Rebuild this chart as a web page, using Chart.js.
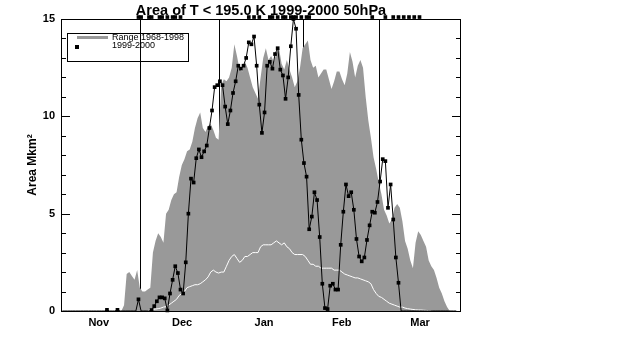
<!DOCTYPE html>
<html><head><meta charset="utf-8">
<script src="https://cdn.jsdelivr.net/npm/chart.js@4.4.1/dist/chart.umd.min.js"></script>
<style>html,body{margin:0;padding:0;background:#fff;}#wrap{width:638px;height:353px;}</style>
</head><body><div id="wrap"><canvas id="c" width="638" height="353"></canvas></div>
<script>
// ---- text ----
const titleText = 'Area of T < 195.0 K 1999-2000 50hPa';
const yAxisTitle = 'Area Mkm\u00B2';
const rangeLabel = 'Range 1968-1998';
const obsLabel = '1999-2000';

// ---- axes (x = days since 1 Nov) ----
const monthLabels = ['Nov', 'Dec', 'Jan', 'Feb', 'Mar'];
const monthLabelDays = [14.4, 46.1, 77.3, 106.9, 136.7];
const monthBoundaryDays = [30.35, 60.3, 92.5, 121.2];
const yTickValues = [0, 5, 10, 15];
const yMinorStep = 1;

// ---- Range 1968-1998 maximum (day 0 .. 152) ----
const rangeMax = [
  0,0,0,0,0,0,0,0,0,0,
  0,0,0,0,0,0,0,0,0,0,
  0,0,0,0,0.3,1.9,2.0,1.8,1.6,2.1,
  1.2,1.0,1.0,1.1,1.2,3.0,3.6,4.0,3.8,3.5,
  5.0,5.2,5.7,6.0,6.1,6.9,7.5,7.8,8.2,8.3,
  8.7,9.4,9.9,10.2,9.4,9.2,9.5,9.6,9.3,8.9,
  8.8,11.6,11.9,11.8,12.0,12.5,13.7,13.1,12.4,12.3,
  12.8,12.5,12.0,11.5,11.2,10.9,12.0,13.0,13.5,12.9,
  13.1,12.8,13.2,13.5,12.7,12.4,12.9,12.4,12.0,11.5,
  11.8,12.5,13.5,13.7,13.9,12.9,12.5,12.6,12.0,12.2,
  12.4,12.4,11.9,11.4,11.8,12.3,12.3,11.9,11.6,12.2,
  13.3,12.8,12.0,12.6,12.9,12.5,11.0,9.8,8.9,7.9,
  7.3,6.6,6.0,5.2,4.9,4.5,4.7,5.3,5.5,5.3,
  4.6,3.6,3.2,2.6,2.2,3.5,4.1,3.9,3.6,3.3,
  2.6,2.3,2.1,1.7,1.2,0.9,0.5,0.2,0,0,
  0,0,0
];

// ---- Range 1968-1998 mean (white line), day 0 .. 141 ----
const rangeMean = [
  null,null,null,null,null,null,null,null,null,null,
  null,null,null,null,null,null,null,null,null,null,
  null,null,null,null,null,null,null,null,null,null,
  null,null,null,0.02,0.05,0.08,0.1,0.12,0.15,0.2,
  0.22,0.3,0.4,0.5,0.6,0.8,0.9,1.0,1.2,1.25,
  1.3,1.35,1.35,1.4,1.5,1.6,1.75,2.0,2.1,2.0,
  1.95,2.0,2.0,2.3,2.6,2.8,2.9,2.7,2.5,2.6,
  2.8,2.8,2.9,3.0,3.0,3.0,3.3,3.4,3.4,3.4,
  3.4,3.5,3.6,3.5,3.4,3.5,3.3,3.2,3.0,2.9,
  2.9,2.9,2.9,2.8,2.6,2.4,2.4,2.3,2.3,2.2,
  2.2,2.2,2.2,2.2,2.1,2.1,2.1,2.0,1.9,1.85,
  1.8,1.75,1.7,1.7,1.65,1.6,1.55,1.5,1.4,1.1,
  0.9,0.75,0.7,0.6,0.5,0.4,0.35,0.3,0.25,0.2,
  0.2,0.15,0.12,0.1,0.08,0.06,0.05,0.05,0.04,0.03,
  0.02,0.01
];

// ---- 1999-2000 daily values, day 0 .. 150 ----
const obs1999 = [
  0,0,0,0,0,0,0,0,0,0,
  0,0,0,0,0,0,0,0.06,0,0,
  0,0.06,0,0,0,0,0,0,0,0.6,
  0,0,0,0,0.05,0.25,0.5,0.7,0.7,0.65,
  0.03,0.9,1.6,2.3,1.95,1.1,0.9,2.5,5.0,6.8,
  6.6,7.85,8.3,7.9,8.2,8.5,9.4,10.3,11.5,11.6,
  11.8,11.6,10.5,9.6,10.3,11.2,11.8,12.6,12.45,12.6,
  13.0,13.8,13.7,14.1,12.6,10.6,9.15,10.2,12.6,12.8,
  12.45,13.2,13.5,12.4,12.1,10.9,12.0,13.6,15.0,14.5,
  11.1,8.8,7.6,6.9,4.2,4.85,6.1,5.7,3.8,1.4,
  0.15,0.1,1.3,1.4,1.1,1.1,3.4,5.1,6.5,5.9,
  6.1,5.2,3.7,2.8,2.55,2.75,3.65,4.4,5.1,5.05,
  5.6,6.65,7.8,7.7,5.3,6.5,4.7,2.75,1.45,0,
  0,0,0,0,0,0,0,0,0,0,
  0,0,0,0,0,0,0,0,0,0,
  0
];

// ---- marks along the top edge ----
const topDotDays = [29,30,33,34,37,38,40,42,43,45, 71,73,75,79,80,82,84,85,87,88,89,91,93,94, 118,123,126,128,130,132,134,136];
const topDotValues = [15.1,15.1,15.1,15.1,15.1,15.1,15.1,15.1,15.1,15.1, 15.1,15.1,15.1,15.1,15.1,15.1,15.1,15.1,15.1,15.1,15.1,15.1,15.1,15.1, 15.1,15.1,15.1,15.1,15.1,15.1,15.1,15.1];

const obsOffset = 0.5;   // daily values plotted at mid-day
const xMax = 152.3;

const rangeData = rangeMax.map((v, i) => ({x: i, y: v}));
const meanData = rangeMean.map((v, i) => ({x: i, y: v}));
const obsData = obs1999.map((v, i) => ({x: i + obsOffset, y: v}));
const topData = topDotDays.map((d, i) => ({x: d + obsOffset, y: topDotValues[i]}));

Chart.defaults.font.family = "'Liberation Sans', Arial, Helvetica, sans-serif";
Chart.defaults.color = '#000';

const framePlugin = {
  id: 'frame',
  afterDraw(chart) {
    const {ctx, chartArea: a, scales: {y}} = chart;
    ctx.save();
    ctx.strokeStyle = '#000';
    ctx.lineWidth = 1;
    ctx.strokeRect(a.left + 0.5, a.top + 0.5, a.right - a.left - 1, a.bottom - a.top);
    ctx.beginPath();
    for (let v = y.min; v <= y.max + 1e-9; v += yMinorStep) {
      const p = Math.round(y.getPixelForValue(v)) + 0.5;
      const len = yTickValues.includes(v) ? 9 : 5;
      ctx.moveTo(a.left, p); ctx.lineTo(a.left + len, p);
      ctx.moveTo(a.right, p); ctx.lineTo(a.right - len, p);
    }
    ctx.stroke();
    ctx.restore();
  }
};

const boxLegendPlugin = {
  id: 'boxLegend',
  afterDraw(chart) {
    const {ctx, chartArea: a} = chart;
    const bx = a.left + 6, by = a.top + 14, bw = 121, bh = 28;
    const ds = chart.data.datasets;
    ctx.save();
    ctx.strokeStyle = '#000';
    ctx.lineWidth = 1;
    ctx.strokeRect(bx + 0.5, by + 0.5, bw, bh);
    ctx.strokeStyle = ds[0].backgroundColor;
    ctx.lineWidth = 3;
    ctx.beginPath();
    ctx.moveTo(bx + 10, by + 4.5);
    ctx.lineTo(bx + 41, by + 4.5);
    ctx.stroke();
    ctx.fillStyle = '#000';
    ctx.fillRect(bx + 8, by + 12, 4, 4);
    ctx.font = "9px 'Liberation Sans', Arial, sans-serif";
    ctx.textBaseline = 'middle';
    ctx.fillText(ds[0].label, bx + 45, by + 5);
    ctx.fillText(ds[3].label, bx + 45, by + 12.5);
    ctx.restore();
  }
};

new Chart(document.getElementById('c'), {
  type: 'line',
  data: {
    datasets: [
      {label: rangeLabel, data: rangeData, borderWidth: 0, borderColor: '#999999', backgroundColor: '#999999',
       fill: 'origin', pointRadius: 0, tension: 0, order: 4},
      {label: 'Mean 1968-1998', data: meanData, borderColor: '#ffffff', borderWidth: 1, pointRadius: 0,
       fill: false, tension: 0, spanGaps: false, order: 3},
      {label: 'top marks', data: topData, showLine: false, pointStyle: 'rect', pointRadius: 2.6,
       pointBackgroundColor: '#000', pointBorderColor: '#000', pointBorderWidth: 0, clip: false, order: 2},
      {label: obsLabel, data: obsData, borderColor: '#000', borderWidth: 1, fill: false, tension: 0,
       pointStyle: 'rect', pointRadius: c => (c.raw && c.raw.y > 0) ? 2.6 : 0,
       pointBackgroundColor: '#000', pointBorderColor: '#000', pointBorderWidth: 0, clip: false, order: 1}
    ]
  },
  options: {
    responsive: false,
    animation: false,
    events: [],
    layout: {padding: {left: 0, right: 177, top: 0, bottom: 0}},
    plugins: {
      legend: {display: false},
      tooltip: {enabled: false},
      title: {display: true, text: titleText, fullSize: false, color: '#000',
              font: {size: 14.5, weight: 'bold', lineHeight: '17px'}, padding: {top: 2, bottom: 0}}
    },
    scales: {
      x: {
        type: 'linear', min: 0, max: xMax, z: 1,
        afterBuildTicks: s => {
          s.ticks = monthLabelDays.map(v => ({value: v})).concat(monthBoundaryDays.map(v => ({value: v})));
        },
        afterFit: s => { s.height = 42; },
        ticks: {autoSkip: false, maxRotation: 0, padding: 5, color: '#000',
                font: {size: 11, weight: 'bold'},
                callback: v => { const i = monthLabelDays.indexOf(v); return i >= 0 ? monthLabels[i] : ''; }},
        grid: {drawTicks: false, lineWidth: 1,
               color: c => (c.tick && monthBoundaryDays.includes(c.tick.value)) ? '#000' : 'rgba(0,0,0,0)'},
        border: {display: false}
      },
      y: {
        min: 0, max: 15,
        afterBuildTicks: s => { s.ticks = yTickValues.map(v => ({value: v})); },
        afterFit: s => { s.width = 61; },
        ticks: {padding: 6, color: '#000', font: {size: 11, weight: 'bold'}},
        grid: {display: false, drawTicks: false},
        border: {display: false},
        title: {display: true, text: yAxisTitle, color: '#000', font: {size: 12, weight: 'bold'},
                padding: {top: 25, bottom: 0}}
      }
    }
  },
  plugins: [framePlugin, boxLegendPlugin]
});
</script>
</body></html>
